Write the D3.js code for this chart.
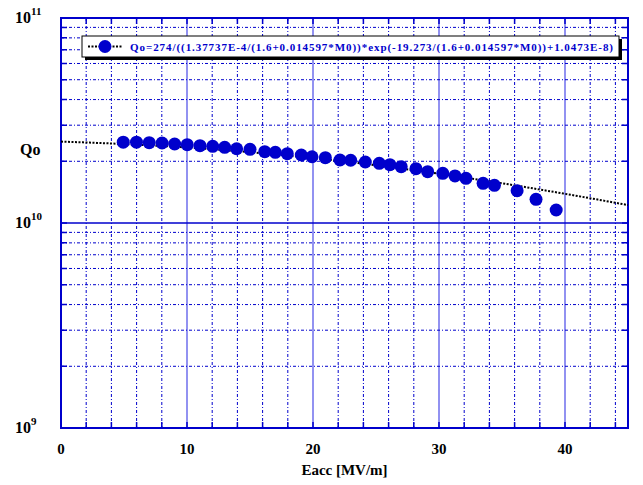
<!DOCTYPE html>
<html>
<head>
<meta charset="utf-8">
<script src="https://cdn.jsdelivr.net/npm/d3@7"></script>
<style>
  body { margin: 0; background: #fff; }
  text { font-family: "Liberation Serif", "Times New Roman", serif; font-weight: bold; }
</style>
</head>
<body>
<div id="chart"></div>
<script>
// measured points
var eacc = [4.94, 5.99, 7.0, 8.02, 9.02, 10.02, 11.03, 12.04, 12.99, 13.94, 15.0, 16.17, 17.01,
            17.96, 19.07, 19.92, 20.98, 22.14, 22.99, 24.15, 25.26, 26.1, 27.0, 28.17, 29.1,
            30.3, 31.27, 32.14, 33.5, 34.4, 36.2, 37.7, 39.3];
var qo = [2.48, 2.48, 2.465, 2.456, 2.429, 2.41, 2.383, 2.366, 2.34, 2.303, 2.288, 2.227, 2.212,
          2.178, 2.146, 2.105, 2.082, 2.029, 2.023, 1.984, 1.955, 1.925, 1.882, 1.84, 1.779,
          1.747, 1.696, 1.652, 1.562, 1.527, 1.438, 1.305, 1.157].map(function(v) { return v * 1e10; });

// fit curve values (read at every 5 MV/m)
var fitE = [0, 5, 10, 15, 20, 25, 30, 35, 40, 45];
var fitQ = [2.496, 2.427, 2.334, 2.215, 2.073, 1.913, 1.739, 1.562, 1.388, 1.223].map(function(v) { return v * 1e10; });

var xTicks = [0, 10, 20, 30, 40];
var yTicks = [1e9, 1e10, 1e11];
var legendText = "Qo=274/((1.37737E-4/(1.6+0.014597*M0))*exp(-19.273/(1.6+0.014597*M0))+1.0473E-8)";

var width = 643, height = 485;
var pL = 61, pR = 628, pT = 18, pB = 428;
var blue = "#0000cc";

var svg = d3.select("#chart").append("svg")
    .attr("width", width)
    .attr("height", height);

var x = d3.scaleLinear().domain([0, 45]).range([pL, pR]);
var y = d3.scaleLog().domain([1e9, 1e11]).range([pB, pT]);

// grid
var vgrid = d3.range(2, 45, 2);
svg.selectAll(".vgrid")
    .data(vgrid)
    .enter().append("line")
    .attr("x1", function(d) { return x(d); })
    .attr("x2", function(d) { return x(d); })
    .attr("y1", pT)
    .attr("y2", pB)
    .attr("stroke", function(d) { return d % 10 == 0 ? "#7777ee" : blue; })
    .attr("stroke-width", function(d) { return d % 10 == 0 ? 1.6 : 1; })
    .attr("stroke-dasharray", function(d) { return d % 10 == 0 ? null : "3,2,1,2"; });

var hgrid = [];
[1e9, 1e10].forEach(function(dec) {
  for (var k = 2; k <= 9; k++) hgrid.push(dec * k);
});
svg.selectAll(".hgrid")
    .data(hgrid)
    .enter().append("line")
    .attr("x1", pL)
    .attr("x2", pR)
    .attr("y1", function(d) { return y(d); })
    .attr("y2", function(d) { return y(d); })
    .attr("stroke", blue)
    .attr("stroke-width", 1)
    .attr("stroke-dasharray", "3,2,1,2");

svg.append("line")
    .attr("x1", pL).attr("x2", pR)
    .attr("y1", y(1e10)).attr("y2", y(1e10))
    .attr("stroke", blue).attr("stroke-width", 1.5);

// small ticks on the frame
svg.selectAll(".ytick")
    .data(hgrid.concat([1e10]))
    .enter().append("path")
    .attr("d", function(d) {
      return "M" + pL + "," + y(d) + "h6M" + pR + "," + y(d) + "h-6";
    })
    .attr("stroke", blue).attr("stroke-width", 1.5);
svg.selectAll(".xtick")
    .data(vgrid)
    .enter().append("path")
    .attr("d", function(d) {
      return "M" + x(d) + "," + pB + "v-6M" + x(d) + "," + pT + "v6";
    })
    .attr("stroke", blue).attr("stroke-width", 1.5);

// frame
svg.append("rect")
    .attr("x", pL).attr("y", pT)
    .attr("width", pR - pL).attr("height", pB - pT)
    .attr("fill", "none")
    .attr("stroke", blue)
    .attr("stroke-width", 2);

// fit line
var line = d3.line()
    .x(function(d, i) { return x(fitE[i]); })
    .y(function(d) { return y(d); })
    .curve(d3.curveMonotoneX);
svg.append("path")
    .datum(fitQ)
    .attr("d", line)
    .attr("fill", "none")
    .attr("stroke", "#000")
    .attr("stroke-width", 2)
    .attr("stroke-dasharray", "2,1.5");

// data points
svg.selectAll(".pt")
    .data(qo)
    .enter().append("circle")
    .attr("cx", function(d, i) { return x(eacc[i]); })
    .attr("cy", function(d) { return y(d); })
    .attr("r", 6.5)
    .attr("fill", blue);

// x labels
svg.selectAll(".xl")
    .data(xTicks)
    .enter().append("text")
    .attr("x", function(d) { return x(d); })
    .attr("y", pB + 26)
    .attr("text-anchor", "middle")
    .style("font-size", "15px")
    .text(function(d) { return d; });

// y labels
var yl = svg.selectAll(".yl")
    .data(yTicks)
    .enter().append("text")
    .attr("x", 15)
    .attr("y", function(d) { return y(d) + 5; })
    .style("font-size", "16px");
yl.append("tspan").text("10");
yl.append("tspan")
    .attr("dy", -8)
    .style("font-size", "11px")
    .text(function(d) { return Math.round(Math.log10(d)); });

svg.append("text")
    .attr("x", 20).attr("y", 155)
    .style("font-size", "16px")
    .text("Qo");

svg.append("text")
    .attr("x", (pL + pR) / 2).attr("y", 475)
    .attr("text-anchor", "middle")
    .style("font-size", "15px")
    .text("Eacc [MV/m]");

// legend
var lg = svg.append("g");
lg.append("rect")
    .attr("x", 85).attr("y", 39)
    .attr("width", 537).attr("height", 21)
    .attr("fill", "#000");
lg.append("rect")
    .attr("x", 82).attr("y", 36)
    .attr("width", 537).attr("height", 21)
    .attr("fill", "#fff")
    .attr("stroke", "#000")
    .attr("stroke-width", 1);
lg.append("line")
    .attr("x1", 88).attr("x2", 123)
    .attr("y1", 46.5).attr("y2", 46.5)
    .attr("stroke", "#000").attr("stroke-width", 2)
    .attr("stroke-dasharray", "2,1.5");
lg.append("circle")
    .attr("cx", 105).attr("cy", 46.5).attr("r", 6.5)
    .attr("fill", blue);
lg.append("text")
    .attr("x", 130).attr("y", 50.5)
    .attr("fill", blue)
    .style("font-size", "11px")
    .attr("textLength", 483)
    .attr("lengthAdjust", "spacing")
    .text(legendText);
</script>
</body>
</html>
